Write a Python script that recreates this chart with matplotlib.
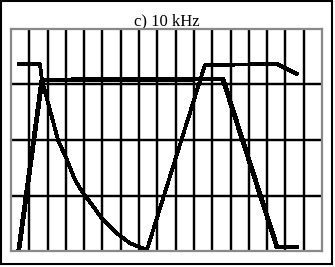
import matplotlib.pyplot as plt
from matplotlib.patches import Rectangle

TITLE = 'c) 10 kHz'

# thick trace
curve1_x = [0.44, 1.69, 11.58, 14.54, 15.63]
curve1_y = [0.05, 3.08, 3.10, 0.07, 0.07]

# thinner trace
curve2_x = [0.44, 1.58, 1.69, 2.13, 2.57, 3.06, 3.50, 3.93, 4.43, 5.03, 5.79, 6.50, 7.43, 10.60, 14.54, 15.63]
curve2_y = [3.37, 3.37, 3.08, 2.54, 2.00, 1.64, 1.28, 1.05, 0.83, 0.56, 0.32, 0.14, 0.02, 3.35, 3.37, 3.19]

x_grid = list(range(1, 17))
y_grid = [1, 2, 3]

W, H = 335, 267
fig = plt.figure(figsize=(W / 100, H / 100), dpi=100)
ax = fig.add_axes([11 / W, (H - 251) / H, 311 / W, 222 / H])

for gx in x_grid:
    ax.axvline(gx, color='black', linewidth=1.75, zorder=1)
for gy in y_grid:
    ax.axhline(gy, color='black', linewidth=1.75, zorder=1)

ax.plot(curve1_x, curve1_y, color='black', linewidth=2.7, antialiased=False, zorder=3)
ax.plot(curve2_x, curve2_y, color='black', linewidth=2.0, antialiased=False, zorder=3)

ax.set_xlim(0, 17)
ax.set_ylim(0, 4)
ax.set_xticks([])
ax.set_yticks([])
for spine in ax.spines.values():
    spine.set_color('#888888')
    spine.set_linewidth(1.6)
    spine.set_zorder(4)

ax.set_title(TITLE, fontsize=12, family='Liberation Serif', pad=1)

fig.patches.append(Rectangle((1 / W, 3 / H), 331 / W, 263 / H, transform=fig.transFigure,
                             fill=False, edgecolor='black', linewidth=1.5))

fig.savefig('out.png', dpi=100)
